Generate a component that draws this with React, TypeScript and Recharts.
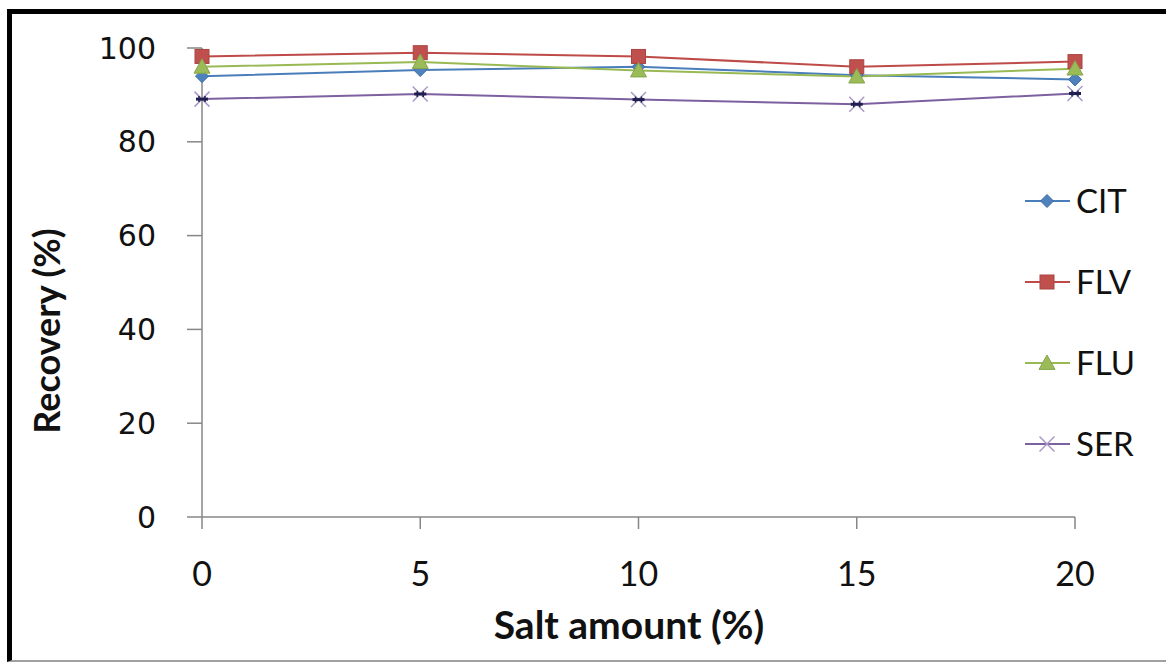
import React from 'react';
import { LineChart, Line, XAxis, YAxis, Legend } from 'recharts';

const saltAmounts = [0, 5, 10, 15, 20];
const citValues = [94.0, 95.3, 96.0, 94.2, 93.3];
const flvValues = [98.2, 99.0, 98.2, 96.0, 97.1];
const fluValues = [96.0, 97.0, 95.2, 93.9, 95.6];
const serValues = [89.1, 90.2, 89.0, 88.0, 90.3];
const yTicks = [0, 20, 40, 60, 80, 100];
const xTicks = [0, 5, 10, 15, 20];
const seriesNames = ['CIT', 'FLV', 'FLU', 'SER'];

const data = saltAmounts.map((s, i) => ({
  salt: s,
  CIT: citValues[i],
  FLV: flvValues[i],
  FLU: fluValues[i],
  SER: serValues[i],
}));

const COLORS: Record<string, string> = {
  CIT: '#4a7ebb',
  FLV: '#be4b48',
  FLU: '#98b954',
  SER: '#7d60a0',
};

function Marker({ name, cx, cy, legend }: { name: string; cx: number; cy: number; legend?: boolean }) {
  if (name === 'CIT') {
    const r = 6.5;
    return (
      <path
        d={`M${cx},${cy - r} L${cx + r},${cy} L${cx},${cy + r} L${cx - r},${cy} Z`}
        fill="#4f81bd"
        stroke="#3d6fa8"
        strokeWidth={1}
      />
    );
  }
  if (name === 'FLV') {
    const r = 7;
    return <rect x={cx - r} y={cy - r} width={2 * r} height={2 * r} fill="#c0504d" stroke="#a94441" strokeWidth={1} />;
  }
  if (name === 'FLU') {
    const r = 8;
    return (
      <path
        d={`M${cx},${cy - r} L${cx + r},${cy + r * 0.8} L${cx - r},${cy + r * 0.8} Z`}
        fill="#9bbb59"
        stroke="#86a64a"
        strokeWidth={1}
      />
    );
  }
  const r = 7.5;
  return (
    <g>
      <line x1={cx - r} y1={cy - r} x2={cx + r} y2={cy + r} stroke="#a898c8" strokeWidth={1.5} />
      <line x1={cx - r} y1={cy + r} x2={cx + r} y2={cy - r} stroke="#a898c8" strokeWidth={1.5} />
      {!legend && (
        <g>
          <line x1={cx - 6} y1={cy} x2={cx + 6} y2={cy} stroke="#1f1f4f" strokeWidth={3} />
          <line x1={cx - 3} y1={cy - 3} x2={cx - 3} y2={cy + 3} stroke="#1f1f4f" strokeWidth={1.5} />
          <line x1={cx + 3} y1={cy - 3} x2={cx + 3} y2={cy + 3} stroke="#1f1f4f" strokeWidth={1.5} />
        </g>
      )}
    </g>
  );
}

const makeDot = (name: string) => (props: any) => {
  const { cx, cy, index } = props;
  if (cx == null || cy == null) return <g key={`${name}-${index}`} />;
  return (
    <g key={`${name}-${index}`}>
      <Marker name={name} cx={cx} cy={cy} />
    </g>
  );
};

const renderLegend = () => (
  <div style={{ display: 'flex', flexDirection: 'column' }}>
    {seriesNames.map((n) => (
      <div key={n} style={{ display: 'flex', alignItems: 'center', height: 81 }}>
        <svg width={52} height={30} style={{ overflow: 'visible' }}>
          <line x1={3} y1={15} x2={48} y2={15} stroke={COLORS[n]} strokeWidth={2} />
          <Marker name={n} cx={25} cy={15} legend />
        </svg>
        <span
          style={{
            fontFamily: 'Lato, "Open Sans", sans-serif',
            fontSize: 33,
            color: '#111',
            marginLeft: 2,
            lineHeight: '33px',
          }}
        >
          {n}
        </span>
      </div>
    ))}
  </div>
);

const axisColor = '#878787';

export default function App() {
  return (
    <div style={{ position: 'absolute', left: 0, top: 0, width: 1166, height: 662, background: '#fff', overflow: 'hidden' }}>
      <div
        style={{
          position: 'absolute',
          left: 7,
          top: 9,
          width: 1200,
          height: 653,
          boxSizing: 'border-box',
          borderLeft: '5px solid #000',
          borderTop: '5px solid #000',
          borderBottom: '2px solid #a0a0a0',
        }}
      />
      <div style={{ position: 'absolute', left: 0, top: 0 }}>
        <LineChart width={1166} height={662} data={data} margin={{ top: 48, right: 91, bottom: 0, left: 0 }}>
          <XAxis
            dataKey="salt"
            type="number"
            domain={[0, 20]}
            ticks={xTicks}
            interval={0}
            height={145}
            axisLine={{ stroke: axisColor, strokeWidth: 1.5 }}
            tickLine={{ stroke: axisColor, strokeWidth: 1.5 }}
            tickSize={12}
            tickMargin={33}
            tick={{ fill: '#111', fontSize: 34, fontFamily: 'Lato, sans-serif' }}
            label={{
              content: () => (
                <text
                  x={629}
                  y={639}
                  textAnchor="middle"
                  fontFamily="Lato, sans-serif"
                  fontWeight="bold"
                  fontSize={39}
                  fill="#111"
                >
                  Salt amount (%)
                </text>
              ),
            }}
          />
          <YAxis
            type="number"
            domain={[0, 100]}
            ticks={yTicks}
            interval={0}
            width={202}
            axisLine={{ stroke: axisColor, strokeWidth: 1.5 }}
            tickLine={{ stroke: axisColor, strokeWidth: 1.5 }}
            tickSize={15}
            tickMargin={31}
            tick={{ fill: '#111', fontSize: 30, fontFamily: '"DejaVu Sans", sans-serif' }}
            label={{
              content: () => (
                <text
                  x={60}
                  y={331}
                  transform="rotate(-90 60 331)"
                  textAnchor="middle"
                  fontFamily="Lato, sans-serif"
                  fontWeight="bold"
                  fontSize={36}
                  fill="#111"
                >
                  Recovery (%)
                </text>
              ),
            }}
          />
          <Legend
            layout="vertical"
            verticalAlign="middle"
            align="center"
            content={renderLegend}
            wrapperStyle={{ position: 'absolute', left: 1022, top: 160, width: 140 }}
          />
          {seriesNames.map((n) => (
            <Line
              key={n}
              type="linear"
              dataKey={n}
              stroke={COLORS[n]}
              strokeWidth={2}
              dot={makeDot(n)}
              activeDot={false}
              isAnimationActive={false}
            />
          ))}
        </LineChart>
      </div>
    </div>
  );
}
